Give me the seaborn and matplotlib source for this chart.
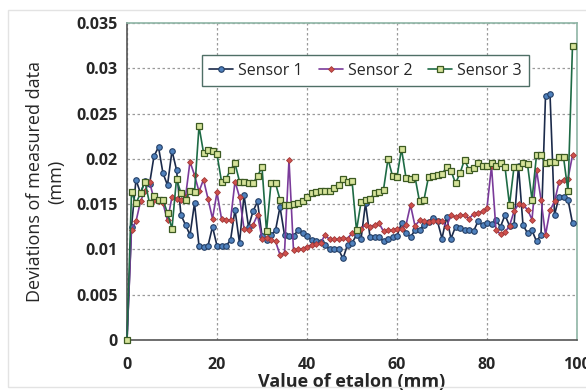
import numpy as np
import pandas as pd
import matplotlib
matplotlib.use("Agg")
import matplotlib.pyplot as plt
import seaborn as sns
from matplotlib.patches import Rectangle

x_vals = list(range(0, 100))

sensor1 = [0.0, 0.0125, 0.0177, 0.0162, 0.0176, 0.0172, 0.0203, 0.0213, 0.0184, 0.0171,
           0.0209, 0.0188, 0.0138, 0.0127, 0.0116, 0.0151, 0.0104, 0.0103, 0.0104, 0.0125,
           0.0104, 0.0104, 0.0104, 0.0110, 0.0144, 0.0107, 0.0160, 0.0125, 0.0142, 0.0153,
           0.0115, 0.0110, 0.0116, 0.0121, 0.0147, 0.0116, 0.0115, 0.0115, 0.0121, 0.0118,
           0.0115, 0.0110, 0.0109, 0.0108, 0.0105, 0.0100, 0.0100, 0.0100, 0.0090, 0.0105,
           0.0107, 0.0116, 0.0111, 0.0151, 0.0114, 0.0114, 0.0114, 0.0109, 0.0111, 0.0114,
           0.0115, 0.0129, 0.0118, 0.0114, 0.0121, 0.0122, 0.0127, 0.0130, 0.0135, 0.0131,
           0.0112, 0.0136, 0.0112, 0.0125, 0.0124, 0.0122, 0.0121, 0.0120, 0.0131, 0.0127,
           0.0129, 0.0128, 0.0132, 0.0125, 0.0138, 0.0126, 0.0127, 0.0192, 0.0127, 0.0118,
           0.0121, 0.0109, 0.0116, 0.0269, 0.0272, 0.0138, 0.0158, 0.0158, 0.0155, 0.0129]

sensor2 = [0.0, 0.0122, 0.0131, 0.0153, 0.0165, 0.0175, 0.0155, 0.0153, 0.0151, 0.0132,
           0.0158, 0.0156, 0.0155, 0.0158, 0.0197, 0.0182, 0.0164, 0.0177, 0.0156, 0.0134,
           0.0163, 0.0134, 0.0133, 0.0132, 0.0175, 0.0158, 0.0123, 0.0122, 0.0127, 0.0138,
           0.0112, 0.0113, 0.0110, 0.0109, 0.0094, 0.0096, 0.0199, 0.0099, 0.0100, 0.0101,
           0.0103, 0.0105, 0.0106, 0.0107, 0.0116, 0.0111, 0.0111, 0.0111, 0.0113, 0.0112,
           0.0118, 0.0121, 0.0123, 0.0127, 0.0125, 0.0127, 0.0129, 0.0120, 0.0121, 0.0121,
           0.0123, 0.0123, 0.0127, 0.0149, 0.0126, 0.0132, 0.0131, 0.0130, 0.0131, 0.0131,
           0.0131, 0.0125, 0.0138, 0.0136, 0.0138, 0.0138, 0.0134, 0.0139, 0.0140, 0.0142,
           0.0146, 0.0192, 0.0121, 0.0117, 0.0119, 0.0126, 0.0142, 0.0150, 0.0149, 0.0144,
           0.0133, 0.0188, 0.0155, 0.0116, 0.0143, 0.0153, 0.0174, 0.0177, 0.0178, 0.0204]

sensor3 = [0.0, 0.0163, 0.0151, 0.0162, 0.0175, 0.0151, 0.0159, 0.0155, 0.0155, 0.0140,
           0.0123, 0.0178, 0.0162, 0.0155, 0.0164, 0.0163, 0.0236, 0.0207, 0.0210, 0.0209,
           0.0205, 0.0175, 0.0178, 0.0188, 0.0195, 0.0175, 0.0175, 0.0173, 0.0173, 0.0181,
           0.0191, 0.0120, 0.0173, 0.0173, 0.0155, 0.0149, 0.0149, 0.0150, 0.0151, 0.0153,
           0.0158, 0.0162, 0.0163, 0.0164, 0.0165, 0.0165, 0.0168, 0.0171, 0.0178, 0.0175,
           0.0176, 0.0121, 0.0152, 0.0155, 0.0156, 0.0162, 0.0163, 0.0166, 0.0200, 0.0181,
           0.0180, 0.0211, 0.0179, 0.0178, 0.0180, 0.0153, 0.0155, 0.0180, 0.0181, 0.0182,
           0.0183, 0.0191, 0.0187, 0.0173, 0.0184, 0.0199, 0.0188, 0.0190, 0.0195, 0.0192,
           0.0192, 0.0195, 0.0192, 0.0195, 0.0191, 0.0149, 0.0191, 0.0191, 0.0195, 0.0194,
           0.0155, 0.0204, 0.0204, 0.0195, 0.0196, 0.0196, 0.0202, 0.0202, 0.0164, 0.0325]

series_names = ["Sensor 1", "Sensor 2", "Sensor 3"]
x_ticks = [0, 20, 40, 60, 80, 100]
y_ticks = [0, 0.005, 0.01, 0.015, 0.02, 0.025, 0.03, 0.035]
y_tick_labels = ["0", "0.005", "0.01", "0.015", "0.02", "0.025", "0.03", "0.035"]

sns.set_theme(style="white")
plt.rcParams['font.family'] = ['Open Sans', 'DejaVu Sans']

fig = plt.figure(figsize=(5.86, 3.91), dpi=100)
ax = fig.add_axes([127/586, 1-340/391, 450/586, 317/391])

# light outer chart frame
fig.patches.append(Rectangle((8/586, 4/391), 1.2, 1-14/391, transform=fig.transFigure,
                             fill=False, edgecolor="#e3e3e3", linewidth=1.0, zorder=0))

styles = {
    "Sensor 1": dict(color="#1b2a4a", marker="o", markersize=4.0, markerfacecolor="#4f81bd",
                     markeredgecolor="#243f66", markeredgewidth=0.8),
    "Sensor 2": dict(color="#7a3b9a", marker="D", markersize=3.0, markerfacecolor="#d0504d",
                     markeredgecolor="#a03a38", markeredgewidth=0.6),
    "Sensor 3": dict(color="#1e6b45", marker="s", markersize=4.8, markerfacecolor="#d6e39a",
                     markeredgecolor="#3c5a22", markeredgewidth=0.9),
}

data = {"Sensor 1": sensor1, "Sensor 2": sensor2, "Sensor 3": sensor3}
for name in series_names:
    df = pd.DataFrame({"x": x_vals, "y": data[name]})
    st = styles[name]
    sns.lineplot(data=df, x="x", y="y", ax=ax, label=name, linewidth=1.2,
                 color=st["color"], marker=st["marker"], markersize=st["markersize"],
                 markerfacecolor=st["markerfacecolor"], markeredgecolor=st["markeredgecolor"],
                 markeredgewidth=st["markeredgewidth"], clip_on=False, zorder=3)

ax.set_xlim(0, 100)
ax.set_ylim(0, 0.035)
ax.set_xticks(x_ticks)
ax.set_yticks(y_ticks)
ax.set_xticklabels([str(t) for t in x_ticks], fontsize=11.5, fontweight="bold")
ax.set_yticklabels(y_tick_labels, fontsize=11.5, fontweight="bold")
ax.tick_params(axis="both", length=0)
ax.tick_params(axis="y", pad=7)
ax.tick_params(axis="x", pad=12)

ax.grid(True, linestyle=(0, (2, 2)), color="#9a9a9a", linewidth=0.9)
ax.set_axisbelow(True)

for s in ["left", "bottom"]:
    ax.spines[s].set_color("#555555")
    ax.spines[s].set_linewidth(1.2)
for s in ["top", "right"]:
    ax.spines[s].set_color("#8fb5a6")
    ax.spines[s].set_linewidth(1.2)

ax.set_xlabel("Value of etalon (mm)", fontsize=13, fontweight="bold", labelpad=0)
ax.set_ylabel("Deviations of measured data\n(mm)", fontsize=13, linespacing=1.2, labelpad=8)

leg = ax.legend(loc="center", bbox_to_anchor=(0.53, 0.85), ncol=3, fontsize=11.5,
                frameon=True, fancybox=False, edgecolor="#4f6f66", handlelength=1.5,
                handletextpad=0.3, columnspacing=1.0, borderpad=0.45)
leg.get_frame().set_linewidth(1.0)
leg.get_frame().set_facecolor("white")
leg.get_frame().set_alpha(1.0)

fig.savefig("out.png", dpi=100)
